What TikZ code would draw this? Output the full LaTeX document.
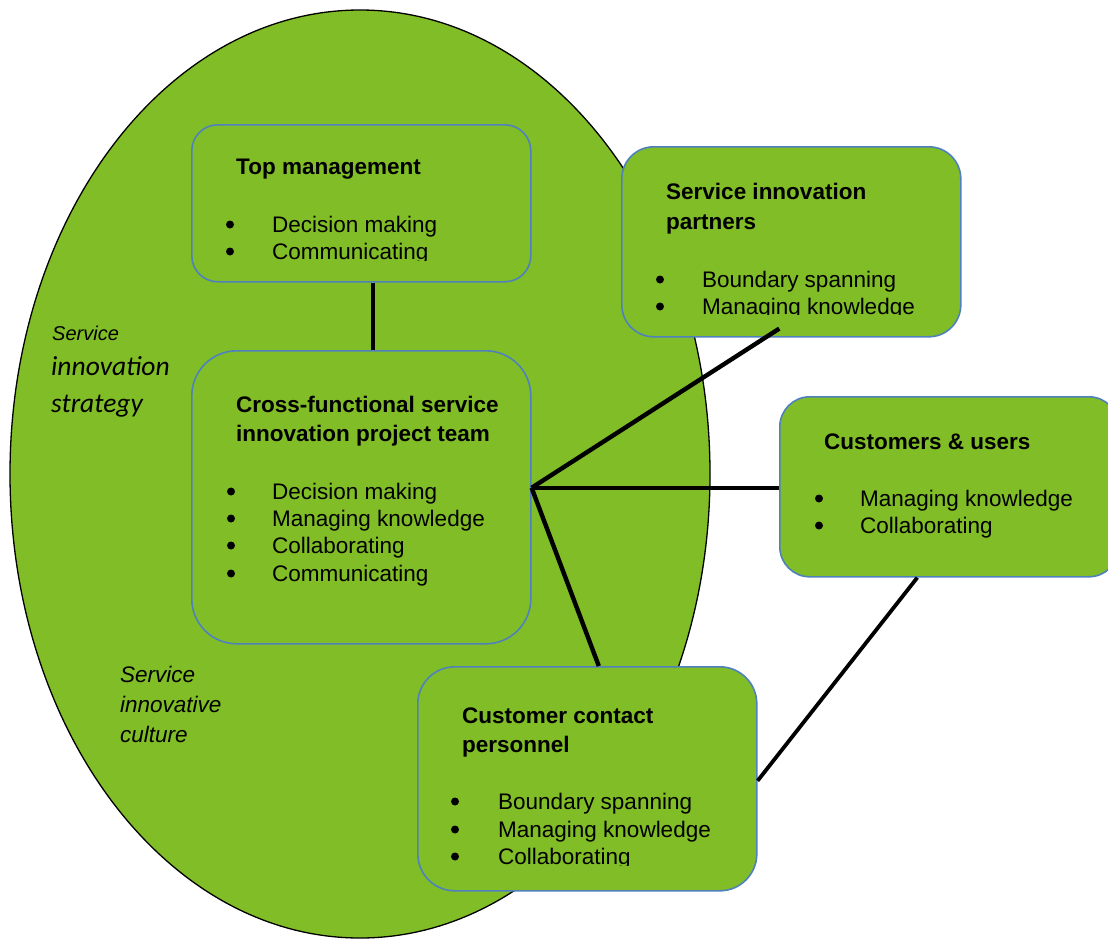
\documentclass[tikz,border=0pt]{standalone}
\usepackage{fontspec}
\setmainfont{Liberation Sans}
\newfontfamily\strategyfont{Carlito}
\usetikzlibrary{shapes.geometric}
\definecolor{leaf}{RGB}{128,189,39}
\definecolor{rim}{RGB}{79,129,189}
% one bullet line: name, bullet x, text x, baseline y, text
\newcommand\bulletrow[5]{%
  \node[dot] (#1-dot) at (#2,#4-7.5) {};
  \node[itm] (#1) at (#3,#4) {#5};}
\begin{document}
\begin{tikzpicture}[x=1pt,y=-1pt,
  box/.style={draw=rim, line width=1.6pt, fill=leaf, rectangle, inner sep=0pt,
              anchor=north west, minimum width=339pt},
  ttl/.style={anchor=base west, inner sep=0pt, font=\bfseries\fontsize{22.5}{27}\selectfont},
  itm/.style={anchor=base west, inner sep=0pt, font=\fontsize{22.5}{27}\selectfont},
  note/.style={anchor=base west, inner sep=0pt, font=\itshape\fontsize{22.5}{27}\selectfont},
  dot/.style={circle, fill=black, inner sep=0pt, minimum size=8pt},
  link/.style={line width=4.4pt},
]
\useasboundingbox (0,0) rectangle (1108,938);
\clip (0,0) rectangle (1108,938);

% the surrounding culture / strategy ellipse
\node[ellipse, draw=black, line width=1.3pt, fill=leaf, inner sep=0pt,
      minimum width=700pt, minimum height=928pt] (culture) at (360,474) {};

\node[note, font=\itshape\fontsize{20}{24}\selectfont] (strat1) at (52,340) {Service};
\node[note, font=\strategyfont\itshape\fontsize{27.5}{30}\selectfont] (strat2) at (51,375) {innovation};
\node[note, font=\strategyfont\itshape\fontsize{27.5}{30}\selectfont] (strat3) at (51,412) {strategy};

\node[note] (cult1) at (120,682) {Service};
\node[note] (cult2) at (120,712) {innovative};
\node[note] (cult3) at (120,742) {culture};

% actor boxes
\node[box, minimum height=157pt, rounded corners=26pt] (top) at (191,124) {};
\node[box, minimum height=293pt, rounded corners=45pt] (cross) at (191,350) {};
\node[box, minimum height=190pt, rounded corners=32pt] (partners) at (621,146) {};
\node[box, minimum height=180pt, rounded corners=30pt] (customers) at (779,396) {};
\node[box, minimum height=224pt, rounded corners=37pt] (contact) at (417,666) {};

% links between the actors
\coordinate (hub) at ([yshift=9.5pt]cross.east);
\draw[link] ([xshift=11.5pt]top.south) -- ([xshift=11.5pt]cross.north);
\draw[link] (hub) -- ([xshift=-12pt,yshift=9pt]partners.south);
\draw[link] (hub) -- (hub -| customers.west);
\draw[link] (hub) -- ([xshift=11.5pt]contact.north);
\draw[line width=3.8pt] ([xshift=-32pt]customers.south) -- ([yshift=-2pt]contact.east);

% Top management
\node[ttl] (top-title) at (236,174) {Top management};
\bulletrow{top-a}{230}{272}{232}{Decision making}
\begin{scope}
  \clip (0,0) rectangle (1108,260);
  \bulletrow{top-b}{230}{272}{259}{Communicating}
\end{scope}

% Cross-functional team
\node[ttl] (cross-title1) at (236,412) {Cross-functional service};
\node[ttl] (cross-title2) at (236,441) {innovation project team};
\bulletrow{cross-a}{231}{272}{499}{Decision making}
\bulletrow{cross-b}{231}{272}{526}{Managing knowledge}
\bulletrow{cross-c}{231}{272}{553}{Collaborating}
\bulletrow{cross-d}{231}{272}{581}{Communicating}

% Service innovation partners
\node[ttl] (partners-title1) at (666,199) {Service innovation};
\node[ttl] (partners-title2) at (666,229) {partners};
\bulletrow{partners-a}{660}{702}{287}{Boundary spanning}
\begin{scope}
  \clip (0,0) rectangle (1108,314);
  \bulletrow{partners-b}{660}{702}{314}{Managing knowledge}
\end{scope}

% Customers & users
\node[ttl] (customers-title) at (824,449) {Customers \& users};
\bulletrow{customers-a}{819}{860}{506}{Managing knowledge}
\bulletrow{customers-b}{819}{860}{533}{Collaborating}

% Customer contact personnel
\node[ttl] (contact-title1) at (462,723) {Customer contact};
\node[ttl] (contact-title2) at (462,752) {personnel};
\bulletrow{contact-a}{455}{498}{809}{Boundary spanning}
\bulletrow{contact-b}{455}{498}{837}{Managing knowledge}
\begin{scope}
  \clip (0,0) rectangle (1108,865);
  \bulletrow{contact-c}{455}{498}{864}{Collaborating}
\end{scope}
\end{tikzpicture}
\end{document}
